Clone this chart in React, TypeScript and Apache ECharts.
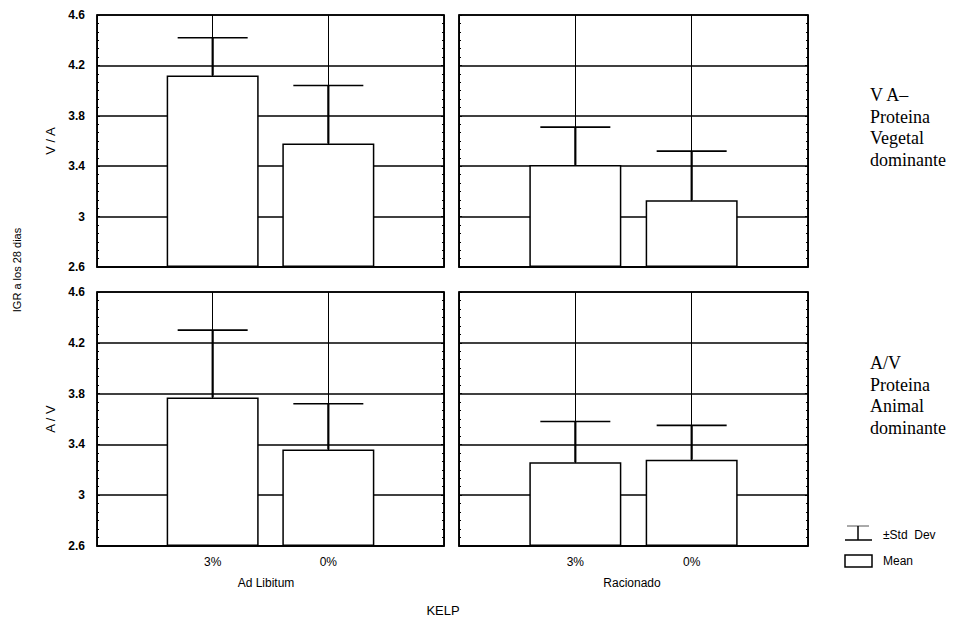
import React, { useEffect, useRef } from "react";
import * as echarts from "echarts";

// ---- data ----
const xCategories = ["", "3%", "0%", ""];
const feedingLabels = ["Ad Libitum", "Racionado"];
const rowLabels = ["V / A", "A / V"];
const yTickLabels = ["2.6", "3", "3.4", "3.8", "4.2", "4.6"];
const yMin = 2.6;
const yMax = 4.6;
const yStep = 0.4;

// means and mean + std dev (3%, 0%)
const meanVA_AdLib = [4.12, 3.58];
const sdTopVA_AdLib = [4.42, 4.04];
const meanVA_Rac = [3.41, 3.13];
const sdTopVA_Rac = [3.71, 3.52];
const meanAV_AdLib = [3.77, 3.36];
const sdTopAV_AdLib = [4.3, 3.72];
const meanAV_Rac = [3.26, 3.28];
const sdTopAV_Rac = [3.58, 3.55];

const panelMeans = [meanVA_AdLib, meanVA_Rac, meanAV_AdLib, meanAV_Rac];
const panelTops = [sdTopVA_AdLib, sdTopVA_Rac, sdTopAV_AdLib, sdTopAV_Rac];

const rightNotes = [
  "V A–\nProteina\nVegetal\ndominante",
  "A/V\nProteina\nAnimal\ndominante",
];

export default function App() {
  const ref = useRef<HTMLDivElement>(null);
  useEffect(() => {
    document.body.style.margin = "0";
    if (!ref.current) return;
    const chart = echarts.init(ref.current, null, { renderer: "svg" });

    const grids = [
      { left: 97, top: 15, width: 347, height: 252 },
      { left: 459, top: 15, width: 349, height: 252 },
      { left: 97, top: 292, width: 347, height: 254 },
      { left: 459, top: 292, width: 349, height: 254 },
    ].map((g) => ({
      ...g,
      show: true,
      borderColor: "#000",
      borderWidth: 1.5,
      backgroundColor: "#fff",
    }));

    const sans = "'Liberation Sans', Arial, sans-serif";
    const serif = "'Liberation Serif', 'Times New Roman', serif";
    const off = (v: number) => +(v - yMin).toFixed(4);

    const xAxes = grids.map((_, i) => ({
      type: "category",
      gridIndex: i,
      data: xCategories,
      boundaryGap: false,
      axisLine: { show: true, lineStyle: { color: "#000", width: 1.5 } },
      axisTick: { show: false },
      axisLabel: {
        show: i >= 2,
        interval: 0,
        margin: 10,
        color: "#000",
        fontFamily: sans,
        fontSize: 12,
      },
      splitLine: { show: true, lineStyle: { color: "#000", width: 1 } },
    }));

    const yAxes: any[] = [];
    grids.forEach((_, i) => {
      const base = {
        type: "value",
        gridIndex: i,
        min: 0,
        max: off(yMax),
        interval: yStep,
        axisLine: { show: true, lineStyle: { color: "#000", width: 1.5 } },
        axisTick: { show: true, inside: true, length: 3, lineStyle: { color: "#000" } },
        minorTick: { show: true, splitNumber: 6, length: 2, lineStyle: { color: "#000" } },
      };
      yAxes.push({
        ...base,
        position: "left",
        axisLabel: {
          show: i % 2 === 0,
          margin: 12,
          color: "#000",
          fontFamily: sans,
          fontSize: 12,
          fontWeight: "bold",
          formatter: (v: number) => yTickLabels[Math.round(v / yStep)] ?? "",
        },
        splitLine: { show: true, lineStyle: { color: "#000", width: 1.5 } },
      });
      yAxes.push({
        ...base,
        position: "right",
        axisLabel: { show: false },
        splitLine: { show: false },
      });
    });

    const series: any[] = [];
    grids.forEach((_, i) => {
      const means = panelMeans[i];
      const tops = panelTops[i];
      series.push({
        type: "bar",
        xAxisIndex: i,
        yAxisIndex: i * 2,
        barWidth: 92,
        data: ["-", off(means[0]), off(means[1]), "-"],
        itemStyle: { color: "#fff", borderColor: "#000", borderWidth: 1.5 },
        z: 3,
      });
      series.push({
        type: "custom",
        xAxisIndex: i,
        yAxisIndex: i * 2,
        z: 4,
        data: means.map((m, k) => [k + 1, off(m), off(tops[k])]),
        encode: { x: 0, y: [1, 2] },
        renderItem: (_p: any, api: any) => {
          const c = api.value(0);
          const p0 = api.coord([c, api.value(1)]);
          const p1 = api.coord([c, api.value(2)]);
          return {
            type: "group",
            children: [
              {
                type: "line",
                shape: { x1: p0[0], y1: p0[1], x2: p1[0], y2: p1[1] },
                style: { stroke: "#000", lineWidth: 2.2 },
              },
              {
                type: "line",
                shape: { x1: p1[0] - 35, y1: p1[1], x2: p1[0] + 35, y2: p1[1] },
                style: { stroke: "#000", lineWidth: 1.6 },
              },
            ],
          };
        },
      });
    });

    const graphic: any[] = [
      {
        type: "text",
        x: 17,
        y: 270,
        rotation: Math.PI / 2,
        style: { text: "IGR a los 28 dias", fill: "#000", font: `11px ${sans}`, align: "center", verticalAlign: "middle" },
      },
      {
        type: "text",
        x: 50,
        y: 141,
        rotation: Math.PI / 2,
        style: { text: rowLabels[0], fill: "#000", font: `13px ${sans}`, align: "center", verticalAlign: "middle" },
      },
      {
        type: "text",
        x: 50,
        y: 419,
        rotation: Math.PI / 2,
        style: { text: rowLabels[1], fill: "#000", font: `13px ${sans}`, align: "center", verticalAlign: "middle" },
      },
      {
        type: "text",
        x: 266,
        y: 583,
        style: { text: feedingLabels[0], fill: "#000", font: `12px ${sans}`, align: "center", verticalAlign: "middle" },
      },
      {
        type: "text",
        x: 632,
        y: 583,
        style: { text: feedingLabels[1], fill: "#000", font: `12px ${sans}`, align: "center", verticalAlign: "middle" },
      },
      {
        type: "text",
        x: 443,
        y: 610,
        style: { text: "KELP", fill: "#000", font: `13px ${sans}`, align: "center", verticalAlign: "middle" },
      },
      {
        type: "text",
        x: 870,
        y: 84,
        style: { text: rightNotes[0], fill: "#000", font: `18px ${serif}`, lineHeight: 21.7, align: "left", verticalAlign: "top" },
      },
      {
        type: "text",
        x: 870,
        y: 352,
        style: { text: rightNotes[1], fill: "#000", font: `18px ${serif}`, lineHeight: 21.7, align: "left", verticalAlign: "top" },
      },
      // legend: std dev icon
      { type: "line", shape: { x1: 847, y1: 526, x2: 869, y2: 526 }, style: { stroke: "#555", lineWidth: 1 } },
      { type: "line", shape: { x1: 858, y1: 526, x2: 858, y2: 540 }, style: { stroke: "#000", lineWidth: 1.5 } },
      { type: "line", shape: { x1: 845, y1: 540, x2: 872, y2: 540 }, style: { stroke: "#000", lineWidth: 1.5 } },
      {
        type: "text",
        x: 883,
        y: 535,
        style: { text: "±Std  Dev", fill: "#000", font: `12px ${sans}`, align: "left", verticalAlign: "middle" },
      },
      // legend: mean icon
      { type: "rect", shape: { x: 845, y: 555, width: 27, height: 12 }, style: { fill: "#fff", stroke: "#000", lineWidth: 1.5 } },
      {
        type: "text",
        x: 883,
        y: 561,
        style: { text: "Mean", fill: "#000", font: `12px ${sans}`, align: "left", verticalAlign: "middle" },
      },
    ];

    chart.setOption({
      animation: false,
      backgroundColor: "#fff",
      grid: grids,
      xAxis: xAxes,
      yAxis: yAxes,
      series,
      graphic,
    });
    return () => chart.dispose();
  }, []);
  return <div ref={ref} style={{ width: 968, height: 632 }} />;
}
